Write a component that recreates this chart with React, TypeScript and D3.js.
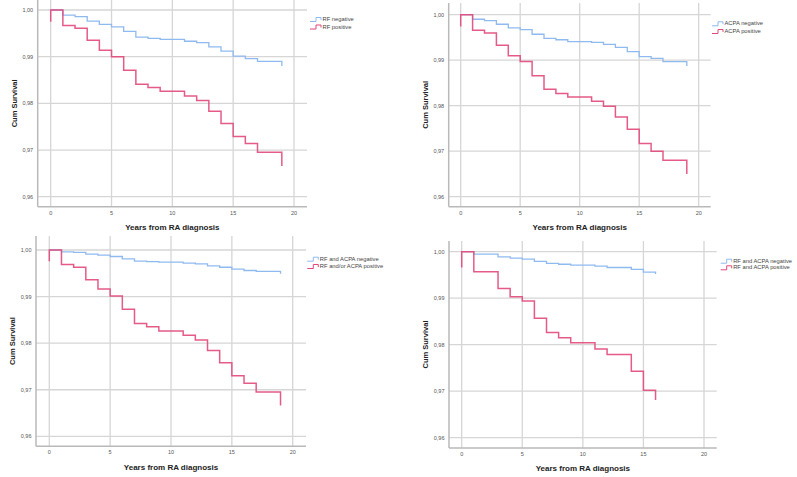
import React from "react";
import * as d3 from "d3";

// ---- data ----
const xTicks = [0, 5, 10, 15, 20];
const yTicks = [0.96, 0.97, 0.98, 0.99, 1.0];

const timesA = [0, 1, 2, 3, 4, 5, 6, 7, 8, 9, 11, 12, 13, 14, 15, 16, 17, 19];
const timesB = [0, 1, 3, 4, 5, 6, 7, 8, 9, 11, 12, 14, 15, 16];

const rfNeg = [1.0, 0.9989, 0.9986, 0.9976, 0.9969, 0.9964, 0.9954, 0.9942, 0.9939, 0.9937, 0.9933, 0.993, 0.9921, 0.9912, 0.9901, 0.9896, 0.989, 0.988];
const rfPos = [1.0, 0.9967, 0.9961, 0.9935, 0.9914, 0.99, 0.9871, 0.9841, 0.9834, 0.9826, 0.9816, 0.9806, 0.9783, 0.9757, 0.9729, 0.9714, 0.9695, 0.9666];
const acpaNeg = [1.0, 0.999, 0.9987, 0.9979, 0.9971, 0.9967, 0.9957, 0.9948, 0.9945, 0.9941, 0.9939, 0.9935, 0.9928, 0.9919, 0.9908, 0.9904, 0.9897, 0.9887];
const acpaPos = [1.0, 0.9966, 0.996, 0.9933, 0.991, 0.9897, 0.9866, 0.9836, 0.9827, 0.9819, 0.981, 0.9799, 0.9775, 0.9748, 0.9717, 0.97, 0.968, 0.965];
const bothNeg = [1.0, 0.9996, 0.9995, 0.9991, 0.9989, 0.9986, 0.9981, 0.9976, 0.9975, 0.9974, 0.9972, 0.997, 0.9966, 0.9963, 0.9959, 0.9956, 0.9954, 0.9949];
const eitherPos = [1.0, 0.9969, 0.9963, 0.9936, 0.9916, 0.9901, 0.9873, 0.9842, 0.9835, 0.9826, 0.9817, 0.9807, 0.9784, 0.9758, 0.973, 0.9714, 0.9695, 0.9666];
const bothNeg4 = [1.0, 0.9995, 0.9989, 0.9986, 0.9984, 0.9979, 0.9975, 0.9973, 0.9971, 0.9969, 0.9966, 0.9962, 0.9956, 0.9952];
const bothPos4 = [1.0, 0.9957, 0.9921, 0.9903, 0.9894, 0.9857, 0.9826, 0.9815, 0.9804, 0.9791, 0.9779, 0.9743, 0.9702, 0.9681];

const startPos = [0.9975, 0.9974, 0.9976, 0.9966];

const legendLabels = [
  ["RF negative", "RF positive"],
  ["ACPA negative", "ACPA positive"],
  ["RF and ACPA negative", "RF and/or ACPA positive"],
  ["RF and ACPA negative", "RF and ACPA positive"],
];

const xTitle = "Years from RA diagnosis";
const yTitle = "Cum Survival";

// ---- layout ----
const BLUE = "#8fbaef";
const RED = "#e2497a";
const GRID = "#d6d6d6";
const FONT = "'Liberation Sans', Arial, sans-serif";

type PanelGeo = {
  x0: number; x20: number; y100: number; y096: number;
  axisLeft: number; axisBottom: number; gridRight: number; gridTop: number;
  legX: number; legY1: number; legY2: number;
};

const geos: PanelGeo[] = [
  { x0: 50.7, x20: 294, y100: 10, y096: 196.7, axisLeft: 37.7, axisBottom: 206.7, gridRight: 307, gridTop: 0, legX: 310, legY1: 19, legY2: 26.5 },
  { x0: 460.7, x20: 698.7, y100: 14.7, y096: 196.7, axisLeft: 448.7, axisBottom: 206.7, gridRight: 710.7, gridTop: 3, legX: 712, legY1: 23.3, legY2: 31 },
  { x0: 49.3, x20: 292.7, y100: 250, y096: 436.3, axisLeft: 36, axisBottom: 446.3, gridRight: 306, gridTop: 236, legX: 307.3, legY1: 258.7, legY2: 266 },
  { x0: 461.7, x20: 704, y100: 251.7, y096: 437.7, axisLeft: 449, axisBottom: 448, gridRight: 716.7, gridTop: 241, legX: 720.7, legY1: 260.7, legY2: 267.3 },
];

const panelSeries = [
  { times: timesA, neg: rfNeg, pos: rfPos },
  { times: timesA, neg: acpaNeg, pos: acpaPos },
  { times: timesA, neg: bothNeg, pos: eitherPos },
  { times: timesB, neg: bothNeg4, pos: bothPos4 },
];

const fmt = (v: number) => d3.format(".2f")(v).replace(".", ",");

function Panel({ i }: { i: number }) {
  const g = geos[i];
  const s = panelSeries[i];
  const x = d3.scaleLinear().domain([0, 20]).range([g.x0, g.x20]);
  const y = d3.scaleLinear().domain([0.96, 1.0]).range([g.y096, g.y100]);
  const line = d3
    .line<[number, number]>()
    .x((d) => x(d[0]))
    .y((d) => y(d[1]))
    .curve(d3.curveStepAfter);

  const mk = (vals: number[], start?: number) => {
    const pts: [number, number][] = [];
    if (start !== undefined) pts.push([0, start]);
    s.times.forEach((t, k) => {
      if (k === s.times.length - 1) pts.push([t, vals[k - 1]]);
      pts.push([t, vals[k]]);
    });
    return line(pts) || "";
  };

  const plotMidX = (g.axisLeft + g.gridRight) / 2 - 8;
  const plotMidY = (g.gridTop + g.axisBottom) / 2;

  const legendSym = (yy: number) => {
    const x1 = g.legX;
    return `M${x1},${yy + 2.5}H${x1 + 6}V${yy - 1.5}H${x1 + 11}V${yy + 1}`;
  };

  return (
    <g>
      {/* horizontal grid */}
      {yTicks.map((t) => (
        <line key={"h" + t} x1={g.axisLeft} x2={g.gridRight} y1={y(t)} y2={y(t)} stroke={GRID} strokeWidth={1.3} />
      ))}
      {/* vertical grid */}
      {xTicks.map((t) => (
        <line key={"v" + t} x1={x(t)} x2={x(t)} y1={g.gridTop} y2={g.axisBottom} stroke={GRID} strokeWidth={1.3} />
      ))}
      {/* axes */}
      <line x1={g.axisLeft} x2={g.axisLeft} y1={g.gridTop} y2={g.axisBottom} stroke="#b9b9b9" strokeWidth={1.5} />
      <line x1={g.axisLeft} x2={g.gridRight} y1={g.axisBottom} y2={g.axisBottom} stroke="#b9b9b9" strokeWidth={1.5} />
      {/* tick labels */}
      {yTicks.map((t) => (
        <text key={"yl" + t} x={g.axisLeft - 4.5} y={y(t)} dy="0.35em" textAnchor="end" fontSize={5.5} fill="#555" fontFamily={FONT}>
          {fmt(t)}
        </text>
      ))}
      {xTicks.map((t) => (
        <text key={"xl" + t} x={x(t)} y={g.axisBottom + 6} dy="0.35em" textAnchor="middle" fontSize={5.5} fill="#555" fontFamily={FONT}>
          {t}
        </text>
      ))}
      {/* titles */}
      <text x={plotMidX + 8} y={g.axisBottom + 20.5} dy="0.35em" textAnchor="middle" fontSize={8} fontWeight="bold" fill="#222" fontFamily={FONT}>
        {xTitle}
      </text>
      <text
        transform={`translate(${g.axisLeft - 23.5},${plotMidY}) rotate(-90)`}
        textAnchor="middle"
        dy="0.35em"
        fontSize={7.5}
        fontWeight="bold"
        fill="#222"
        fontFamily={FONT}
      >
        {yTitle}
      </text>
      {/* survival curves */}
      <path d={mk(s.neg)} fill="none" stroke={BLUE} strokeWidth={1.3} />
      <path d={mk(s.pos, startPos[i])} fill="none" stroke={RED} strokeWidth={1.5} strokeOpacity={0.9} />
      {/* legend */}
      <path d={legendSym(g.legY1)} fill="none" stroke={BLUE} strokeWidth={1} />
      <path d={legendSym(g.legY2)} fill="none" stroke={RED} strokeWidth={1} />
      <text x={g.legX + 12.5} y={g.legY1} dy="0.35em" fontSize={5.8} fill="#444" fontFamily={FONT}>
        {legendLabels[i][0]}
      </text>
      <text x={g.legX + 12.5} y={g.legY2} dy="0.35em" fontSize={5.8} fill="#444" fontFamily={FONT}>
        {legendLabels[i][1]}
      </text>
    </g>
  );
}

export default function App() {
  return (
    <svg
      width={797}
      height={477}
      style={{ position: "absolute", left: 0, top: 0, background: "#fff" }}
    >
      <rect width={797} height={477} fill="#fff" />
      {[0, 1, 2, 3].map((i) => (
        <Panel key={i} i={i} />
      ))}
    </svg>
  );
}
